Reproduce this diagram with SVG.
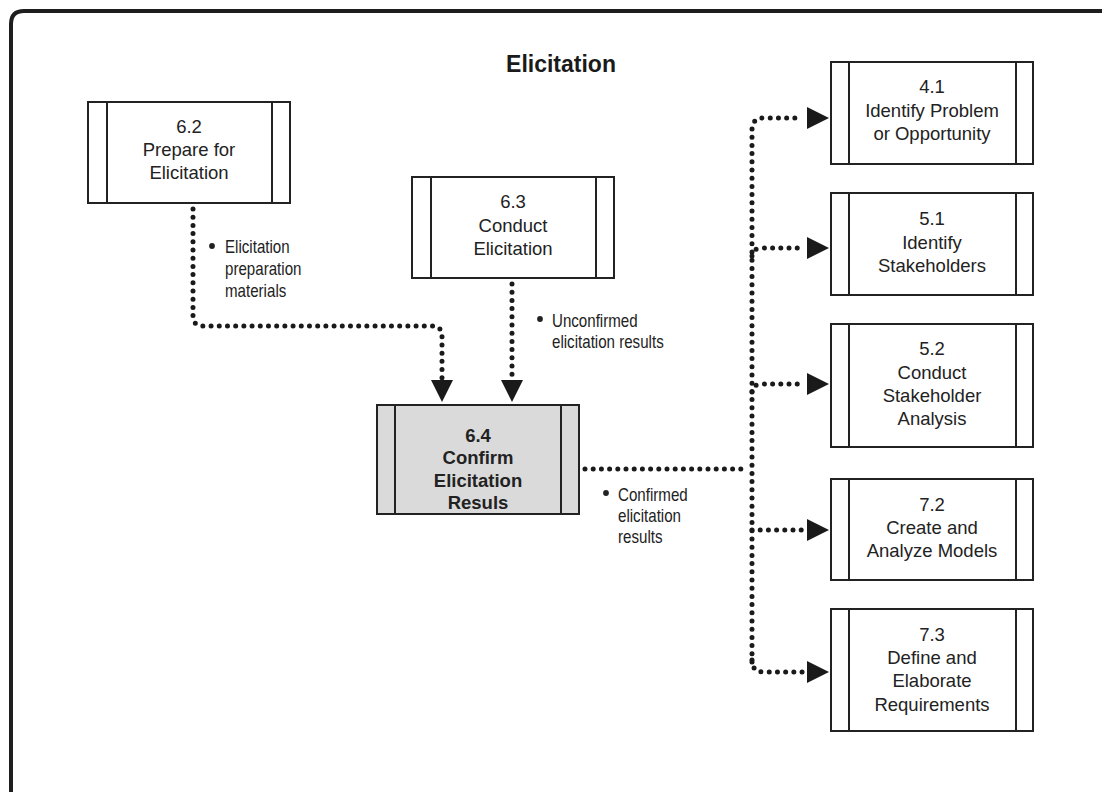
<svg xmlns="http://www.w3.org/2000/svg" width="1102" height="792" viewBox="0 0 1102 792">
<defs>
<style>
.box{fill:#fff;stroke:#222;stroke-width:2}
.gbox{fill:#dadada;stroke:#222;stroke-width:2}
.bar{stroke:#222;stroke-width:2}
.t{font-family:"Liberation Sans",Arial,sans-serif;font-size:18.5px;fill:#222;text-anchor:middle}
.tb{font-family:"Liberation Sans",Arial,sans-serif;font-size:18.5px;font-weight:bold;fill:#222;text-anchor:middle}
.lbl{font-family:"Liberation Sans",Arial,sans-serif;font-size:18px;fill:#222}
.dot{fill:none;stroke:#1a1a1a;stroke-width:5;stroke-linecap:round;stroke-dasharray:0 8.2}
.ah{fill:#1a1a1a}
.title{font-family:"Liberation Sans",Arial,sans-serif;font-size:23px;font-weight:bold;fill:#1a1a1a;text-anchor:middle}
</style>
</defs>
<rect width="1102" height="792" fill="#fff"/>
<path d="M11 792 V24 Q11 11 24 11 H1102" fill="none" stroke="#1e1e1e" stroke-width="4"/>
<text class="title" x="561" y="72">Elicitation</text>

<g id="connectors">
  <path class="dot" d="M193 209 V316 Q193 326 203 326 H432 Q442 326 442 336 V378"/>
  <polygon class="ah" points="431,380 453,380 442,402"/>
  <path class="dot" d="M512 284 V378"/>
  <polygon class="ah" points="501,380 523,380 512,402"/>
  <path class="dot" d="M585 469 H745"/>
  <path class="dot" d="M752 662 V130 Q752 118 764 118 H803"/>
  <polygon class="ah" points="807,107 807,129 829,118"/>
  <path class="dot" d="M752 256 Q753 248 762 248 H803"/>
  <polygon class="ah" points="807,237 807,259 829,248"/>
  <path class="dot" d="M752 392 Q753 384 762 384 H803"/>
  <polygon class="ah" points="807,373 807,395 829,384"/>
  <path class="dot" d="M752 530 H803"/>
  <polygon class="ah" points="807,519 807,541 829,530"/>
  <path class="dot" d="M752 660 Q752 672 764 672 H803"/>
  <polygon class="ah" points="807,661 807,683 829,672"/>
  <circle cx="212" cy="246" r="2.9" fill="#222"/>
  <text class="lbl" transform="translate(225 253) scale(0.84 1)">Elicitation</text>
  <text class="lbl" transform="translate(225 275) scale(0.84 1)">preparation</text>
  <text class="lbl" transform="translate(225 297) scale(0.84 1)">materials</text>
  <circle cx="540" cy="319" r="2.9" fill="#222"/>
  <text class="lbl" transform="translate(552 327) scale(0.84 1)">Unconfirmed</text>
  <text class="lbl" transform="translate(552 348) scale(0.84 1)">elicitation results</text>
  <circle cx="606" cy="493" r="2.9" fill="#222"/>
  <text class="lbl" transform="translate(618 501) scale(0.84 1)">Confirmed</text>
  <text class="lbl" transform="translate(618 522) scale(0.84 1)">elicitation</text>
  <text class="lbl" transform="translate(618 543) scale(0.84 1)">results</text>
</g>

<g id="n62">
  <rect class="box" x="88" y="102" width="202" height="101"/>
  <line class="bar" x1="107" y1="102" x2="107" y2="203"/>
  <line class="bar" x1="272" y1="102" x2="272" y2="203"/>
  <text class="t" x="189" y="133">6.2</text>
  <text class="t" x="189" y="156">Prepare for</text>
  <text class="t" x="189" y="179">Elicitation</text>
</g>
<g id="n63">
  <rect class="box" x="412" y="177" width="202" height="101"/>
  <line class="bar" x1="431" y1="177" x2="431" y2="278"/>
  <line class="bar" x1="596" y1="177" x2="596" y2="278"/>
  <text class="t" x="513" y="208">6.3</text>
  <text class="t" x="513" y="232">Conduct</text>
  <text class="t" x="513" y="255">Elicitation</text>
</g>
<g id="n64">
  <rect class="gbox" x="377" y="405" width="202" height="109"/>
  <line class="bar" x1="395" y1="405" x2="395" y2="514"/>
  <line class="bar" x1="561" y1="405" x2="561" y2="514"/>
  <text class="tb" x="478" y="442">6.4</text>
  <text class="tb" x="478" y="464">Confirm</text>
  <text class="tb" x="478" y="487">Elicitation</text>
  <text class="tb" x="478" y="509">Resuls</text>
</g>
<g id="n41">
  <rect class="box" x="831" y="62" width="202" height="102"/>
  <line class="bar" x1="849" y1="62" x2="849" y2="164"/>
  <line class="bar" x1="1016" y1="62" x2="1016" y2="164"/>
  <text class="t" x="932" y="93">4.1</text>
  <text class="t" x="932" y="117">Identify Problem</text>
  <text class="t" x="932" y="140">or Opportunity</text>
</g>
<g id="n51">
  <rect class="box" x="831" y="193" width="202" height="102"/>
  <line class="bar" x1="849" y1="193" x2="849" y2="295"/>
  <line class="bar" x1="1016" y1="193" x2="1016" y2="295"/>
  <text class="t" x="932" y="225">5.1</text>
  <text class="t" x="932" y="249">Identify</text>
  <text class="t" x="932" y="272">Stakeholders</text>
</g>
<g id="n52">
  <rect class="box" x="831" y="324" width="202" height="123"/>
  <line class="bar" x1="849" y1="324" x2="849" y2="447"/>
  <line class="bar" x1="1016" y1="324" x2="1016" y2="447"/>
  <text class="t" x="932" y="355">5.2</text>
  <text class="t" x="932" y="379">Conduct</text>
  <text class="t" x="932" y="402">Stakeholder</text>
  <text class="t" x="932" y="425">Analysis</text>
</g>
<g id="n72">
  <rect class="box" x="831" y="479" width="202" height="101"/>
  <line class="bar" x1="849" y1="479" x2="849" y2="580"/>
  <line class="bar" x1="1016" y1="479" x2="1016" y2="580"/>
  <text class="t" x="932" y="511">7.2</text>
  <text class="t" x="932" y="534">Create and</text>
  <text class="t" x="932" y="557">Analyze Models</text>
</g>
<g id="n73">
  <rect class="box" x="831" y="609" width="202" height="122"/>
  <line class="bar" x1="849" y1="609" x2="849" y2="731"/>
  <line class="bar" x1="1016" y1="609" x2="1016" y2="731"/>
  <text class="t" x="932" y="641">7.3</text>
  <text class="t" x="932" y="664">Define and</text>
  <text class="t" x="932" y="687">Elaborate</text>
  <text class="t" x="932" y="711">Requirements</text>
</g>
</svg>
